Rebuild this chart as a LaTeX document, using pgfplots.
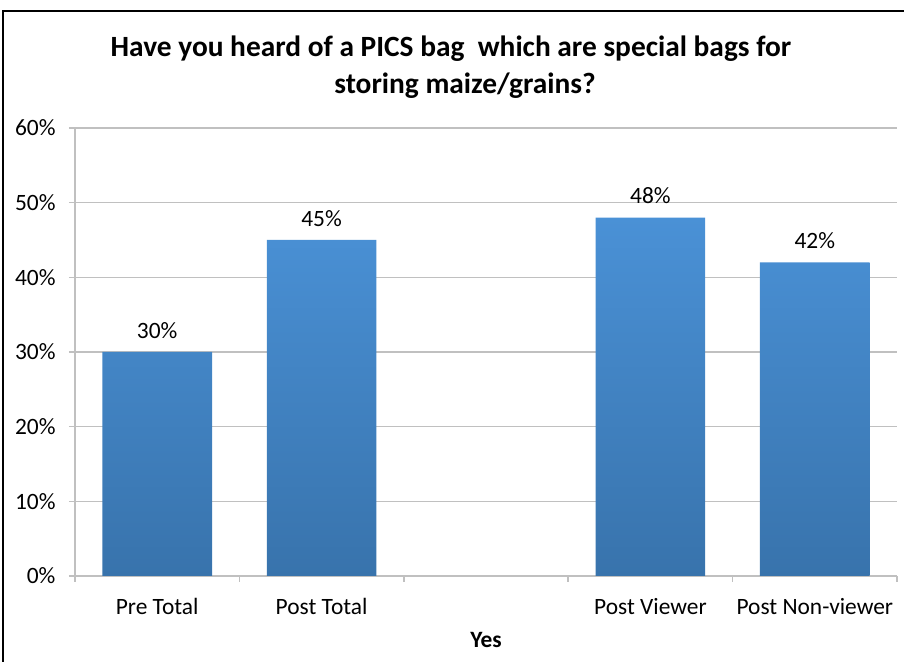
\documentclass[border=0pt]{standalone}
\usepackage{pgfplots}
\pgfplotsset{compat=1.18}
\usepackage{fontspec}
\setmainfont{Carlito}
\definecolor{barTop}{RGB}{74,145,214}
\definecolor{barBot}{RGB}{56,115,172}
\definecolor{gridc}{RGB}{192,192,192}
\begin{document}
\begin{tikzpicture}[x=1bp,y=1bp]
\path[use as bounding box] (0,0) rectangle (904,662);
\draw[line width=2bp] (3,0) -- (3,651) -- (904,651);
\node[font=\fontsize{29.5}{32}\selectfont\bfseries] at (451,613) {Have you heard of a PICS bag\ \ which are special bags for};
\node[font=\fontsize{29.5}{32}\selectfont\bfseries] at (465,576) {storing maize/grains?};
\begin{axis}[
  at={(75bp,86bp)}, anchor=south west,
  scale only axis, width=822bp, height=448bp,
  xmin=0.5, xmax=5.5, ymin=0, ymax=60,
  axis x line*=bottom, axis y line*=left,
  axis line style={gridc, line width=1.5bp},
  xtick={0.5,1.5,2.5,3.5,4.5,5.5}, xticklabels={},
  ytick={0,10,20,30,40,50,60},
  yticklabels={0\%,10\%,20\%,30\%,40\%,50\%,60\%},
  tick align=outside, major tick length=6bp,
  tick style={gridc, line width=1.5bp},
  ymajorgrids, grid style={gridc, line width=1.5bp},
  extra x ticks={1,2,3,4,5},
  extra x tick labels={Pre Total,Post Total,{},Post Viewer,Post Non-viewer},
  extra x tick style={major tick length=0pt, grid=none, tick style={draw=none},
    xticklabel style={yshift=-19bp}},
  /pgf/number format/assume math mode=true,
  ticklabel style={font=\fontsize{23.5}{26}\selectfont},
  yticklabel style={xshift=-10bp},
  xlabel={Yes},
  xlabel style={font=\fontsize{23.5}{26}\selectfont\bfseries, at={(axis description cs:0.5,0)}, anchor=center, yshift=-64bp},
  nodes near coords={\pgfmathprintnumber[assume math mode=true]{\pgfplotspointmeta}\%},
  nodes near coords style={font=\fontsize{23.5}{26}\selectfont, black, yshift=10bp},
  point meta=y,
]
\addplot[ybar, bar width=0.667, draw=none, top color=barTop, bottom color=barBot]
  coordinates {(1,30) (2,45) (4,48) (5,42)};
\end{axis}
\end{tikzpicture}
\end{document}
